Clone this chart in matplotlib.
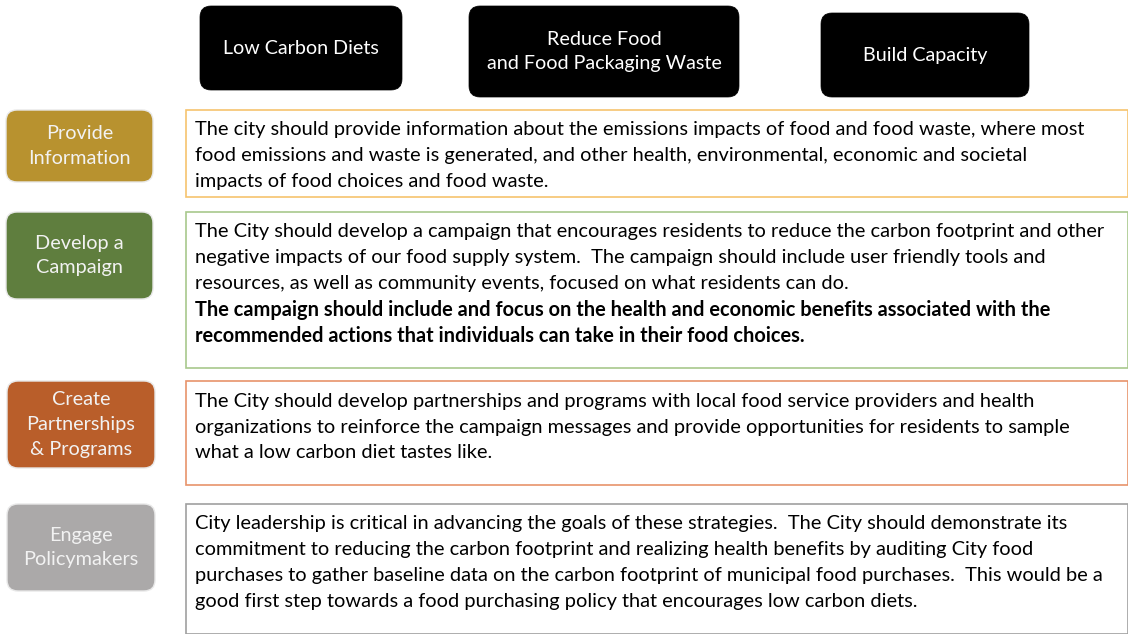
import matplotlib.pyplot as plt
from matplotlib.patches import FancyBboxPatch, Rectangle

plt.rcParams['font.family'] = ['Lato', 'DejaVu Sans']

# content
headers = ['Low Carbon Diets', 'Reduce Food\nand Food Packaging Waste', 'Build Capacity']
actions = ['Provide\nInformation', 'Develop a\nCampaign', 'Create\nPartnerships\n& Programs', 'Engage\nPolicymakers']
texts = [
    ['The city should provide information about the emissions impacts of food and food waste, where most',
     'food emissions and waste is generated, and other health, environmental, economic and societal',
     'impacts of food choices and food waste.'],
    ['The City should develop a campaign that encourages residents to reduce the carbon footprint and other',
     'negative impacts of our food supply system.  The campaign should include user friendly tools and',
     'resources, as well as community events, focused on what residents can do.',
     'The campaign should include and focus on the health and economic benefits associated with the',
     'recommended actions that individuals can take in their food choices.'],
    ['The City should develop partnerships and programs with local food service providers and health',
     'organizations to reinforce the campaign messages and provide opportunities for residents to sample',
     'what a low carbon diet tastes like.'],
    ['City leadership is critical in advancing the goals of these strategies.  The City should demonstrate its',
     'commitment to reducing the carbon footprint and realizing health benefits by auditing City food',
     'purchases to gather baseline data on the carbon footprint of municipal food purchases.  This would be a',
     'good first step towards a food purchasing policy that encourages low carbon diets.'],
]
bold_lines = [[], [3, 4], [], []]

# styles / layout (pixel coords, y downwards)
label_colors = ['#b8922f', '#5f7e3e', '#b95e2a', '#aba9a9']
border_colors = ['#f6c46e', '#a8c88c', '#e8936b', '#a0a0a0']
header_boxes = [(200, 6, 202, 84), (469, 6, 270, 91), (821, 13, 208, 84)]
label_boxes = [(6, 110, 147, 72), (6, 212, 147, 87), (7, 381, 148, 87), (7, 504, 148, 87)]
text_boxes = [(186, 110, 942, 87), (186, 212, 942, 156), (186, 381, 942, 104), (186, 504, 942, 130)]

fig = plt.figure(figsize=(11.28, 6.34), dpi=100)
ax = fig.add_axes([0, 0, 1, 1])
ax.set_xlim(0, 1128)
ax.set_ylim(634, 0)
ax.axis('off')

for (x, y, w, h), label in zip(header_boxes, headers):
    ax.add_patch(FancyBboxPatch((x + 11, y + 11), w - 22, h - 22,
                                boxstyle='round,pad=11', fc='black', ec='black', lw=0.5))
    ax.text(x + w / 2, y + h / 2, label, color='white', fontsize=14.2,
            ha='center', va='center', linespacing=1.55)

for (x, y, w, h), label, c in zip(label_boxes, actions, label_colors):
    ax.add_patch(FancyBboxPatch((x + 11, y + 11), w - 22, h - 22,
                                boxstyle='round,pad=11', fc=c, ec='#e8e8e8', lw=1))
    ax.text(x + w / 2, y + h / 2, label, color='#f2f2f2', fontsize=14.3,
            ha='center', va='center', linespacing=1.55)

for (x, y, w, h), lines, bl, ec in zip(text_boxes, texts, bold_lines, border_colors):
    ax.add_patch(Rectangle((x, y), w, h, fc='white', ec=ec, lw=1.2))
    for i, line in enumerate(lines):
        ax.text(x + 9, y + 20 + i * 26, line, fontsize=14.45, color='black',
                ha='left', va='center', fontweight='bold' if i in bl else 'normal')

fig.savefig('out.png', dpi=100, facecolor='white')
